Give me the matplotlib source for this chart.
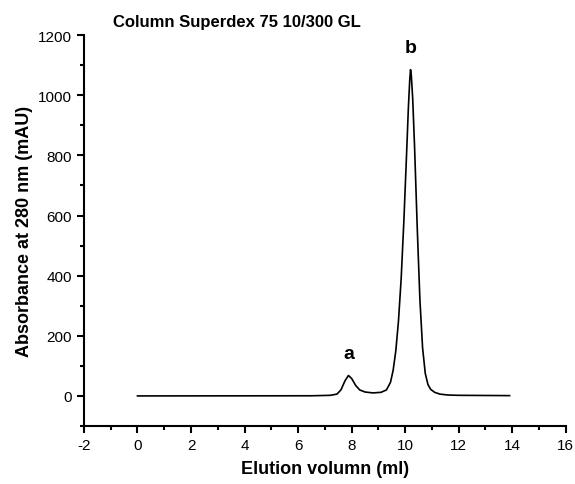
import matplotlib
matplotlib.use('Agg')
import matplotlib.pyplot as plt
from matplotlib.ticker import MultipleLocator

plt.rcParams['font.family'] = ['Liberation Sans', 'DejaVu Sans']
plt.rcParams['axes.unicode_minus'] = False

# Chromatogram
volume = [0.0, 6.5, 7.2, 7.45, 7.6, 7.75, 7.88, 8.0, 8.15, 8.3, 8.5, 8.8,
          9.1, 9.3, 9.45, 9.55, 9.65, 9.75, 9.85, 9.95, 10.05, 10.12, 10.17, 10.2,
          10.23, 10.28, 10.35, 10.45, 10.55, 10.65, 10.75, 10.85, 10.95, 11.1,
          11.3, 11.6, 12.0, 13.9]
absorb = [0, 0.5, 2, 6, 20, 50, 68, 58, 35, 20, 13, 10,
          12, 20, 45, 85, 150, 250, 390, 580, 800, 960, 1050, 1085,
          1065, 990, 830, 560, 320, 160, 75, 38, 22, 12,
          6, 3, 2, 1]

peak_labels = ['a', 'b']
peak_x = [7.88, 10.2]
peak_y = [68, 1085]

fig = plt.figure(figsize=(5.75, 4.85), dpi=100)
ax = fig.add_axes([0.146, 0.1196, 0.838, 0.806])

ax.plot(volume, absorb, color='black', linewidth=1.2)

for lab, px, py in zip(peak_labels, peak_x, peak_y):
    ax.annotate(lab, (px, py), xytext=(0, 10), textcoords='offset points',
                ha='center', va='bottom', fontsize=14, fontweight='bold')

ax.set_xlim(-2, 16)
ax.set_ylim(-100, 1200)
ax.xaxis.set_major_locator(MultipleLocator(2))
ax.xaxis.set_minor_locator(MultipleLocator(1))
ax.yaxis.set_major_locator(MultipleLocator(200))
ax.yaxis.set_minor_locator(MultipleLocator(100))

ax.spines['top'].set_visible(False)
ax.spines['right'].set_visible(False)
ax.spines['left'].set_linewidth(1.5)
ax.spines['bottom'].set_linewidth(1.5)

ax.tick_params(which='major', direction='out', length=5, width=1.5, labelsize=11)
ax.tick_params(which='minor', direction='out', length=3, width=1.5)

ax.set_xlabel('Elution volumn (ml)', fontsize=13, fontweight='bold', labelpad=6)
ax.set_ylabel('Absorbance at 280 nm (mAU)', fontsize=13, fontweight='bold', labelpad=4)

fig.text(0.197, 0.953, 'Column Superdex 75 10/300 GL', fontsize=12,
         fontweight='bold', ha='left', va='center')

fig.savefig('out.png', dpi=100)
